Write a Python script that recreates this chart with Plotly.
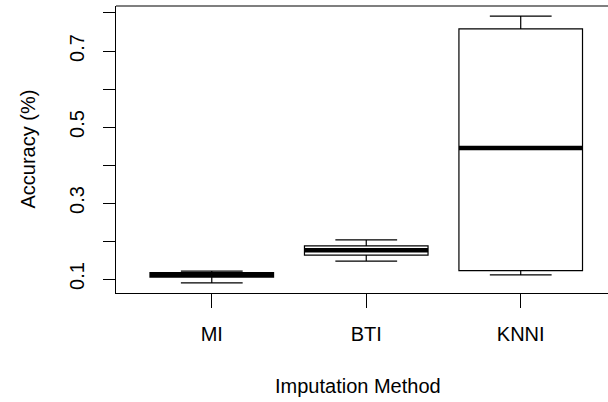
import plotly.graph_objects as go

methods = ["MI", "BTI", "KNNI"]
positions = [1, 2, 3]
lower = [0.090, 0.147, 0.111]
q1 = [0.105, 0.163, 0.122]
median = [0.111, 0.176, 0.445]
q3 = [0.117, 0.187, 0.758]
upper = [0.121, 0.203, 0.792]
ytick_vals = [0.1, 0.2, 0.3, 0.4, 0.5, 0.6, 0.7, 0.8]
ytick_text = ["0.1", "", "0.3", "", "0.5", "", "0.7", ""]

FONT = "Liberation Sans, Arial, Helvetica, sans-serif"
FS = 20
box_w = 0.8

fig = go.Figure()
fig.add_trace(go.Box(
    x=positions, q1=q1, median=median, q3=q3,
    lowerfence=lower, upperfence=upper,
    width=box_w, whiskerwidth=0.5,
    fillcolor="white", line=dict(color="black", width=1.2),
    boxpoints=False, showlegend=False, hoverinfo="skip",
))
for p, m in zip(positions, median):
    fig.add_trace(go.Scatter(
        x=[p - box_w / 2, p + box_w / 2], y=[m, m], mode="lines",
        line=dict(color="black", width=4.5), showlegend=False, hoverinfo="skip",
    ))

fig.update_layout(
    width=608, height=402,
    margin=dict(l=116, r=0, t=6, b=109),
    paper_bgcolor="white", plot_bgcolor="white",
    font=dict(family=FONT, size=FS, color="black"),
    xaxis=dict(
        range=[0.38, 3.565], tickvals=positions, ticktext=methods,
        showgrid=False, zeroline=False, showline=True, linecolor="black", linewidth=1.2,
        ticks="outside", ticklen=14, tickcolor="black", tickwidth=1.2,
        ticklabelstandoff=9, tickfont=dict(family=FONT, size=FS, color="black"),
    ),
    yaxis=dict(
        range=[0.0632, 0.8184], tickvals=ytick_vals, ticktext=ytick_text,
        tickangle=-90, showgrid=False, zeroline=False, showline=True,
        linecolor="black", linewidth=1.2,
        ticks="outside", ticklen=12, tickcolor="black", tickwidth=1.2,
        ticklabelstandoff=11, tickfont=dict(family=FONT, size=FS, color="black"),
    ),
    shapes=[dict(type="line", xref="paper", yref="paper", x0=0, x1=1, y0=1, y1=1,
                 line=dict(color="black", width=1.2))],
    annotations=[
        dict(text="Accuracy (%)", xref="paper", yref="paper", x=(27 - 116) / 492,
             y=(293 - 149.5) / 287, textangle=-90, showarrow=False,
             xanchor="center", yanchor="middle", font=dict(family=FONT, size=FS, color="black")),
        dict(text="Imputation Method", xref="paper", yref="paper", x=(358 - 116) / 492,
             y=(293 - 386) / 287, showarrow=False,
             xanchor="center", yanchor="middle", font=dict(family=FONT, size=FS, color="black")),
    ],
)

fig.write_html("out.html")
